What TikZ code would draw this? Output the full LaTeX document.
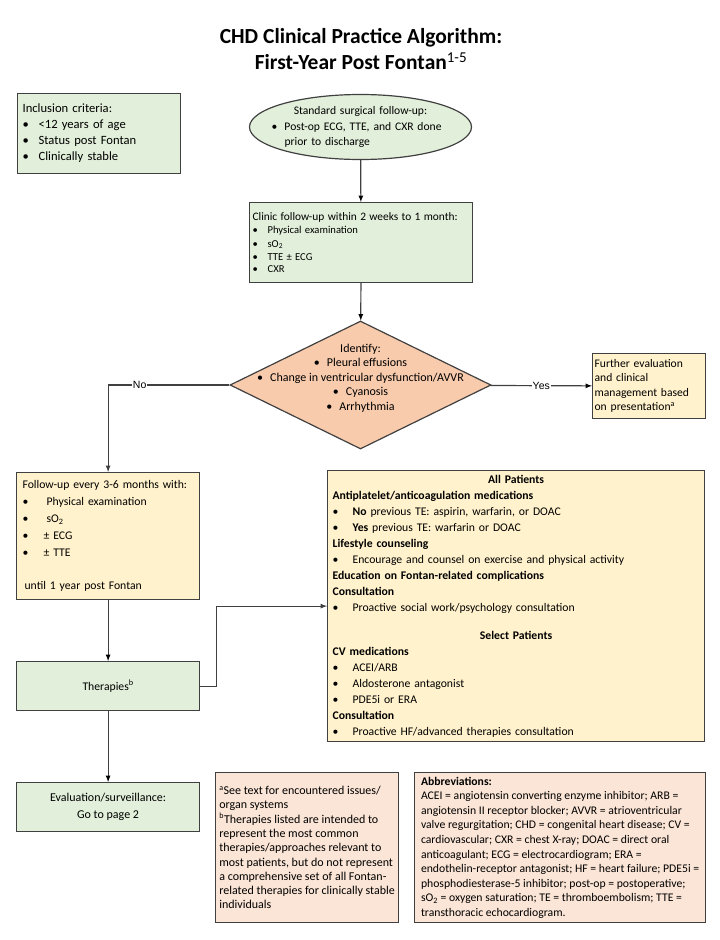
\documentclass[tikz,border=0pt]{standalone}
\usepackage{fontspec}
\setmainfont{Carlito}
\newfontfamily\labelfont{Liberation Sans}
\usetikzlibrary{shapes.geometric,arrows}

\definecolor{boxline}{HTML}{404040}
\definecolor{greenfill}{HTML}{E2EFDA}
\definecolor{yellowfill}{HTML}{FFF2CC}
\definecolor{peachfill}{HTML}{F8CBAD}
\definecolor{notefill}{HTML}{FBE5D6}

\newcommand{\itemdot}[1]{\makebox[#1pt][l]{\textbullet}}

\tikzset{
  box/.style={draw=boxline, line width=1.2pt, anchor=north west, align=left, inner ysep=0pt},
  greenbox/.style={box, fill=greenfill},
  yellowbox/.style={box, fill=yellowfill},
  notebox/.style={box, fill=notefill, inner xsep=0pt},
  flow/.style={->, >=latex, draw=boxline, line width=1.2pt},
  answer/.style={fill=white, inner sep=1pt, font=\labelfont\fontsize{10.5}{12}\selectfont}
}

\begin{document}
\begin{tikzpicture}[x=1pt, y=-1pt]
		\useasboundingbox (0,0) rectangle (720,940);
		%
		\node[font=\fontsize{21.5}{26}\selectfont\bfseries, align=center] (title) at (361,49.5)
			{CHD Clinical Practice Algorithm:\\First-Year Post Fontan\textsuperscript{\mdseries 1-5}};
		%
		\node[greenbox, text width=153, minimum height=80, inner xsep=5pt, font=\fontsize{12.6}{16}\selectfont] (incl) at (17,93)
			{Inclusion criteria:\\
			\itemdot{16}<12 years of age\\
			\itemdot{16}Status post Fontan\\
			\itemdot{16}Clinically stable};
		\node[ellipse, draw=boxline, line width=1.2pt, fill=greenfill, minimum width=222, minimum height=65,
			inner xsep=-30pt, inner ysep=-15pt, text width=178, align=left, font=\fontsize{11.6}{15.5}\selectfont] (std) at (360.5,127)
			{\makebox[178pt]{Standard surgical follow-up:}\\
			\itemdot{13}Post-op ECG, TTE, and CXR done\\
			\hspace*{13pt}prior to discharge};
		\node[greenbox, text width=217, minimum height=80, inner xsep=3pt] (clinic) at (249,202)
			{\fontsize{11.4}{14}\selectfont Clinic follow-up within 2 weeks to 1 month:\\
			{\fontsize{10.6}{13.5}\selectfont
			\itemdot{15}Physical examination\\
			\itemdot{15}sO\textsubscript{2}\\
			\itemdot{15}TTE ± ECG\\
			\itemdot{15}CXR}};
		%
		\node[diamond, draw=boxline, line width=1.2pt, fill=peachfill, minimum width=261, minimum height=128, inner sep=0pt] (ident) at (360.5,385) {};
		\node[align=center, font=\fontsize{12}{14.5}\selectfont] (identtext) at ([yshift=7pt]ident.center)
			{Identify:\\
			\itemdot{13}Pleural effusions\\
			\itemdot{13}Change in ventricular dysfunction/AVVR\\
			\itemdot{13}Cyanosis\\
			\itemdot{13}Arrhythmia};
		\node[yellowbox, text width=109, minimum height=65, inner xsep=2pt, font=\fontsize{11.6}{14.5}\selectfont] (further) at (592,353)
			{Further evaluation\\
			and clinical\\
			management based\\
			on presentation\textsuperscript{a}};
		%
		\node[yellowbox, text width=171, minimum height=127, inner xsep=6pt, font=\fontsize{11.7}{16.8}\selectfont] (follow) at (16,472)
			{Follow-up every 3-6 months with:\\
			\itemdot{24}Physical examination\\
			\itemdot{24}sO\textsubscript{2}\\
			\itemdot{21}± ECG\\
			\itemdot{21}± TTE\\[16.8pt]
			\hspace*{2pt}until 1 year post Fontan};
		\node[greenbox, align=center, minimum width=183, minimum height=49, font=\fontsize{11.7}{16}\selectfont] (ther) at (16,661)
			{Therapies\textsuperscript{b}};
		\node[greenbox, align=center, minimum width=183, minimum height=49, font=\fontsize{12}{16.5}\selectfont] (eval) at (16,782)
			{Evaluation/surveillance:\\Go to page 2};
		%
		\node[yellowbox, text width=367, minimum height=271, inner xsep=5pt, font=\fontsize{11.7}{16}\selectfont] (allpat) at (327,470)
			{\makebox[367pt]{\bfseries All Patients}\\
			\textbf{Antiplatelet/anticoagulation medications}\\
			\itemdot{20}\textbf{No} previous TE: aspirin, warfarin, or DOAC\\
			\itemdot{20}\textbf{Yes} previous TE: warfarin or DOAC\\
			\textbf{Lifestyle counseling}\\
			\itemdot{20}Encourage and counsel on exercise and physical activity\\
			\textbf{Education on Fontan-related complications}\\
			\textbf{Consultation}\\
			\itemdot{20}Proactive social work/psychology consultation\\[12pt]
			\makebox[367pt]{\bfseries Select Patients}\\
			\textbf{CV medications}\\
			\itemdot{20}ACEI/ARB\\
			\itemdot{20}Aldosterone antagonist\\
			\itemdot{20}PDE5i or ERA\\
			\textbf{Consultation}\\
			\itemdot{20}Proactive HF/advanced therapies consultation};
		%
		\node[notebox, minimum width=183, minimum height=150, font=\fontsize{12}{14.3}\selectfont] (notes) at (215,772)
			{\textsuperscript{a}See text for encountered issues/\\
			organ systems\\
			\textsuperscript{b}Therapies listed are intended to\\
			represent the most common\\
			therapies/approaches relevant to\\
			most patients, but do not represent\\
			a comprehensive set of all Fontan-\\
			related therapies for clinically stable\\
			individuals};
		\node[notebox, minimum width=291, minimum height=150, font=\fontsize{11.7}{14.6}\selectfont] (abbr) at (414,772)
			{\textbf{Abbreviations:}\\
			ACEI = angiotensin converting enzyme inhibitor; ARB =\\
			angiotensin II receptor blocker; AVVR = atrioventricular\\
			valve regurgitation; CHD = congenital heart disease; CV =\\
			cardiovascular; CXR = chest X-ray; DOAC = direct oral\\
			anticoagulant; ECG = electrocardiogram; ERA =\\
			endothelin-receptor antagonist; HF = heart failure; PDE5i =\\
			phosphodiesterase-5 inhibitor; post-op = postoperative;\\
			sO\textsubscript{2} = oxygen saturation; TE = thromboembolism; TTE =\\
			transthoracic echocardiogram.};
		%
		\path[flow]
		(std) edge (clinic)
		(clinic) edge (ident)
		(ident) edge node[answer]{Yes} (further)
		(follow) edge (ther)
		(ther) edge (eval);
		\draw[flow] (ident.west) -| node[answer, pos=0.37]{No} (follow.north);
		\draw[flow] (ther.east) -- ++(16,0) |- (allpat.west);
\end{tikzpicture}
\end{document}
